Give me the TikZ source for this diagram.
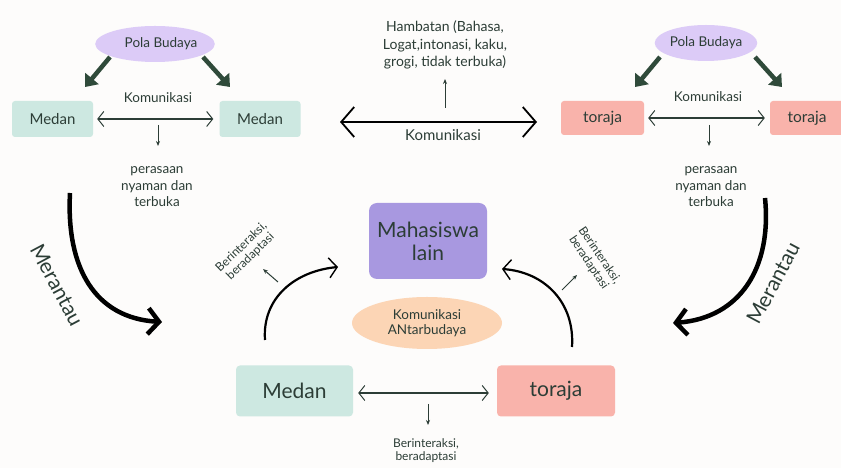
\documentclass[tikz,border=0pt]{standalone}
\usepackage{fontspec}
\setmainfont{Lato}
\usetikzlibrary{arrows.meta,shapes.geometric}
\definecolor{bg}{HTML}{FDFCFB}
\definecolor{mint}{HTML}{CDE8E1}
\definecolor{salmon}{HTML}{F9B3AB}
\definecolor{lav}{HTML}{DCCBF7}
\definecolor{purp}{HTML}{A898E0}
\definecolor{peach}{HTML}{FCD5B5}
\definecolor{dgreen}{HTML}{2F4A3A}
\definecolor{txt}{HTML}{2C3D36}
\tikzset{
  lbl/.style={text=txt,font=\fontsize{13.5}{16.5}\selectfont,align=center,inner sep=0pt},
  slbl/.style={text=txt,font=\fontsize{12}{13}\selectfont,align=center,inner sep=0pt},
  boxm/.style={fill=mint,rounded corners=3pt,minimum width=81pt,minimum height=36pt,text=txt,font=\fontsize{15}{16}\selectfont},
  boxt/.style={fill=salmon,rounded corners=3pt,minimum width=83pt,minimum height=34pt,text=txt,font=\fontsize{15.5}{16}\selectfont},
  pola/.style={ellipse,fill=lav,minimum width=100pt,minimum height=36pt,inner sep=0pt,text=txt,font=\fontsize{13.5}{14}\selectfont},
  garrow/.style={draw=dgreen,line width=4.5pt,-{Triangle[length=11pt,width=17pt]}},
  thinda/.style={draw=txt,line width=1.3pt,{Straight Barb[length=6pt,width=15pt,line width=1pt]}-{Straight Barb[length=6pt,width=15pt,line width=1pt]}},
  smarrow/.style={draw=txt,line width=1pt,-{Stealth[length=5pt,width=4pt]}},
  bigarrow/.style={draw=black,line width=4.5pt,-{Straight Barb[length=11pt,width=26pt]}},
  curarrow/.style={draw=black,line width=2.2pt,-{Straight Barb[length=8pt,width=20pt,line width=1.4pt]}},
}
\begin{document}
\begin{tikzpicture}[x=1pt,y=1pt]
\useasboundingbox (0,0) rectangle (841,468);
\fill[bg] (0,0) rectangle (841,468);

% ---------- top left ----------
\node[pola] (polaL) at (155,424) {\hspace*{12pt}Pola Budaya};
\node[boxm] (medanL1) at (52.5,349) {Medan};
\node[boxm] (medanL2) at (260,349) {Medan};
\node[lbl] (komL) at (158,370) {Komunikasi};
\coordinate (gL1s) at (110,411); \coordinate (gL1e) at (85,381);
\coordinate (gL2s) at (203,411); \coordinate (gL2e) at (230,381);
\draw[garrow] (gL1s) -- (gL1e);
\draw[garrow] (gL2s) -- (gL2e);
\draw[thinda,shorten <=4pt,shorten >=6pt] (medanL1.east) -- (medanL2.west);
\coordinate (dL1) at (158,343); \coordinate (dL2) at (158,322);
\draw[smarrow] (dL1) -- (dL2);
\node[lbl] (perL) at (157,281) {perasaan\\nyaman dan\\terbuka};

% ---------- top middle ----------
\node[lbl,font=\fontsize{14}{17.5}\selectfont] (hamb) at (445,423) {Hambatan (Bahasa,\\Logat,intonasi, kaku,\\grogi, tidak terbuka)};
\coordinate (bigL) at (340,346); \coordinate (bigR) at (537,346);
\draw[draw=black,line width=2.6pt,{Straight Barb[length=13pt,width=30pt,line width=1.8pt]}-{Straight Barb[length=13pt,width=30pt,line width=1.8pt]}] (bigL) -- (bigR);
\coordinate (upA) at (445,360); \coordinate (upB) at (445,389);
\draw[smarrow] (upA) -- (upB);
\node[lbl,font=\fontsize{15}{16}\selectfont] (komM) at (443,333) {Komunikasi};

% ---------- top right ----------
\node[pola] (polaR) at (706,425) {Pola Budaya};
\node[boxt] (torL) at (602.5,350) {toraja};
\node[boxt,minimum width=84pt,text width=60pt,align=center] (torR) at (812,350) {\hspace*{-10pt}toraja};
\node[lbl] (komR) at (708,371) {Komunikasi};
\coordinate (gR1s) at (660,411); \coordinate (gR1e) at (635,381);
\coordinate (gR2s) at (755,411); \coordinate (gR2e) at (782,381);
\draw[garrow] (gR1s) -- (gR1e);
\draw[garrow] (gR2s) -- (gR2e);
\draw[thinda,shorten <=4pt,shorten >=5pt] (torL.east) -- (torR.west);
\coordinate (dR1) at (709,343); \coordinate (dR2) at (709,322);
\draw[smarrow] (dR1) -- (dR2);
\node[lbl] (perR) at (711,281) {perasaan\\nyaman dan\\terbuka};

% ---------- Merantau arrows ----------
\coordinate (mLs) at (70,275); \coordinate (mLe) at (162,146);
\draw[bigarrow] (mLs) .. controls (66,200) and (95,150) .. (mLe);
\node[text=txt,font=\fontsize{21}{22}\selectfont,rotate=-62] (merL) at (57,183) {Merantau};
\coordinate (mRs) at (765,270); \coordinate (mRe) at (673,145);
\draw[bigarrow] (mRs) .. controls (772,200) and (740,150) .. (mRe);
\node[text=txt,font=\fontsize{21}{22}\selectfont,rotate=62] (merR) at (773,185) {Merantau};

% ---------- centre ----------
\node[fill=purp,rounded corners=8pt,minimum width=118pt,minimum height=76pt,align=center,text=txt,font=\fontsize{21}{23}\selectfont] (maha) at (428,227) {Mahasiswa\\lain};
\node[ellipse,fill=peach,minimum width=150pt,minimum height=52pt,inner sep=0pt,align=center,text=txt,font=\fontsize{13.5}{15}\selectfont] (kab) at (427,145) {Komunikasi\\ANtarbudaya};
\node[fill=mint,rounded corners=4pt,minimum width=117pt,minimum height=51pt,text=txt,font=\fontsize{21}{22}\selectfont] (medanB) at (294.5,77) {Medan};
\node[fill=salmon,rounded corners=4pt,minimum width=118pt,minimum height=51pt,text=txt,font=\fontsize{21}{22}\selectfont] (torB) at (556,77) {toraja};
\draw[thinda,shorten <=5pt,shorten >=8pt] (medanB.east |- 0,75) -- (torB.west |- 0,75);
\coordinate (dB1) at (428,64); \coordinate (dB2) at (428,43);
\draw[smarrow] (dB1) -- (dB2);
\node[slbl] (berB) at (426,17) {Berinteraksi,\\beradaptasi};

% curved arrows towards Mahasiswa lain
\coordinate (cLs) at (265,128); \coordinate (cLe) at (338,201);
\draw[curarrow] (cLs) .. controls (262,170) and (295,197) .. (cLe);
\coordinate (sL1) at (278,186); \coordinate (sL2) at (263,199);
\draw[smarrow] (sL1) -- (sL2);
\node[slbl,rotate=44] (berL) at (246,216) {Berinteraksi,\\beradaptasi};

\coordinate (cRs) at (572,121); \coordinate (cRe) at (502,199);
\draw[curarrow] (cRs) .. controls (575,165) and (545,196) .. (cRe);
\coordinate (sR1) at (562,178); \coordinate (sR2) at (577,193);
\draw[smarrow] (sR1) -- (sR2);
\node[slbl,rotate=-56] (berR) at (594,209) {Berinteraksi,\\beradaptasi};
\end{tikzpicture}
\end{document}
